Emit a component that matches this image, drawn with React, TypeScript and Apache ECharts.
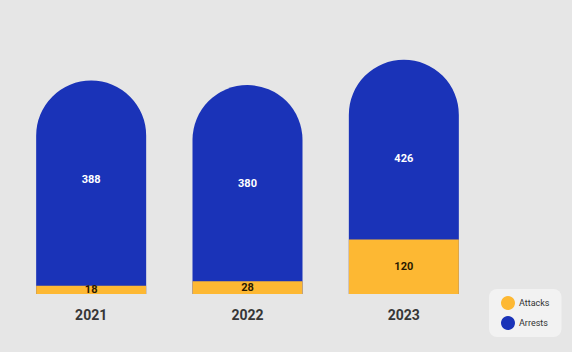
import React, { useEffect, useRef } from "react";
import * as echarts from "echarts";

const years = ["2021", "2022", "2023"];
const attacks = [18, 28, 120];
const arrests = [388, 380, 426];

export default function App() {
  const ref = useRef<HTMLDivElement>(null);
  useEffect(() => {
    if (!ref.current) return;
    const chart = echarts.init(ref.current, null, { renderer: "svg" });
    chart.setOption({
      animation: false,
      backgroundColor: "#e6e6e6",
      textStyle: { fontFamily: "Roboto" },
      grid: { left: 13, right: 90, top: 30, bottom: 58 },
      legend: {
        orient: "vertical",
        left: 489,
        top: 289,
        width: 71,
        height: 46,
        padding: [7, 12, 7, 12],
        backgroundColor: "#f2f2f2",
        borderRadius: 8,
        itemWidth: 14,
        itemHeight: 14,
        itemGap: 6,
        icon: "circle",
        textStyle: { color: "#333", fontSize: 9, padding: [0, 0, 0, -1] },
        data: ["Attacks", "Arrests"],
      },
      xAxis: {
        type: "category",
        data: years,
        axisLine: { show: false },
        axisTick: { show: false },
        axisLabel: { color: "#363636", fontSize: 14, fontWeight: "bold", margin: 14 },
      },
      yAxis: [
        { type: "value", min: 0, max: 480, show: false },
        { type: "value", min: 0, max: 580, show: false },
      ],
      series: [
        {
          name: "Arrests",
          type: "bar",
          yAxisIndex: 0,
          data: arrests,
          barWidth: 110,
          itemStyle: { color: "#1a33b8", borderRadius: [55, 55, 0, 0] },
          label: {
            show: true,
            position: "insideTop",
            distance: 93,
            color: "#ffffff",
            fontSize: 11,
            fontWeight: "bold",
          },
          z: 1,
        },
        {
          name: "Attacks",
          type: "bar",
          yAxisIndex: 1,
          data: attacks,
          barWidth: 110,
          barGap: "-100%",
          itemStyle: { color: "#fdb833" },
          label: {
            show: true,
            position: "inside",
            color: "#2a1a00",
            fontSize: 11,
            fontWeight: "bold",
          },
          z: 2,
        },
      ],
    });
    return () => chart.dispose();
  }, []);
  return <div ref={ref} style={{ width: 572, height: 352, position: "fixed", left: 0, top: 0 }} />;
}
